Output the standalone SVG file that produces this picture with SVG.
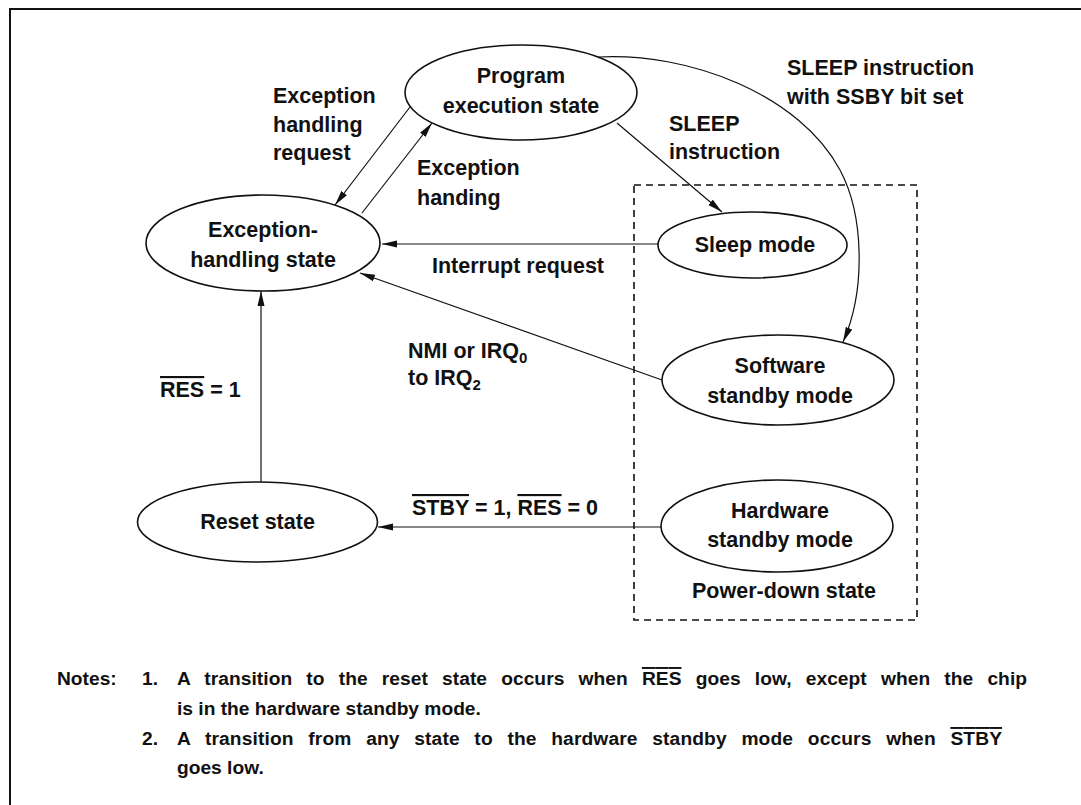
<svg xmlns="http://www.w3.org/2000/svg" width="1081" height="805" viewBox="0 0 1081 805">
<style>
  text { font-family: "Liberation Sans", Arial, sans-serif; font-size: 21.5px; font-weight: bold; fill: #111; }
  .c { text-anchor: middle; }
  .note { font-size: 19.2px; }
  .ov { text-decoration: overline; }
  .node { fill: #fff; stroke: #111; stroke-width: 1.6; }
  .edge { fill: none; stroke: #111; stroke-width: 1.2; }
  .frame { fill: none; stroke: #111; stroke-width: 2; }
  .dash { fill: none; stroke: #111; stroke-width: 1.6; stroke-dasharray: 7 5; }
</style>
<defs>
  <marker id="arr" markerUnits="userSpaceOnUse" markerWidth="16" markerHeight="10" refX="15" refY="4" orient="auto">
    <path d="M0,0.5 L15,4 L0,7.5 z" fill="#111"/>
  </marker>
</defs>
<rect width="1081" height="805" fill="#fff"/>
<path class="frame" d="M10,805 L10,9 L1081,9"/>

<g id="power-down-box">
  <rect class="dash" x="634" y="185" width="283" height="435"/>
  <text x="692" y="598">Power-down state</text>
</g>

<g id="connectors">
  <line class="edge" x1="410" y1="107" x2="335" y2="205" marker-end="url(#arr)"/>
  <line class="edge" x1="362" y1="213" x2="432" y2="123" marker-end="url(#arr)"/>
  <line class="edge" x1="617" y1="123" x2="722" y2="212" marker-end="url(#arr)"/>
  <line class="edge" x1="658" y1="244" x2="382" y2="244" marker-end="url(#arr)"/>
  <line class="edge" x1="662" y1="380" x2="360" y2="273" marker-end="url(#arr)"/>
  <line class="edge" x1="261" y1="482" x2="261" y2="291" marker-end="url(#arr)"/>
  <line class="edge" x1="661" y1="527" x2="378" y2="527" marker-end="url(#arr)"/>
  <path class="edge" d="M598,57 C690,52 800,95 840,170 C864,215 866,290 843,342" marker-end="url(#arr)"/>
  <text x="273" y="103">Exception</text>
  <text x="273" y="132">handling</text>
  <text x="273" y="160">request</text>
  <text x="417" y="175">Exception</text>
  <text x="417" y="205">handing</text>
  <text x="669" y="131">SLEEP</text>
  <text x="669" y="159">instruction</text>
  <text x="787" y="75">SLEEP instruction</text>
  <text x="787" y="104">with SSBY bit set</text>
  <text x="432" y="273">Interrupt request</text>
  <text x="408" y="358">NMI or IRQ<tspan font-size="15" dy="5">0</tspan></text>
  <text x="408" y="385">to IRQ<tspan font-size="15" dy="5">2</tspan></text>
  <text x="160" y="397"><tspan class="ov">RES</tspan> = 1</text>
  <text x="412" y="515"><tspan class="ov">STBY</tspan> = 1, <tspan class="ov">RES</tspan> = 0</text>
</g>

<g id="program-execution">
  <ellipse class="node" cx="521" cy="92.5" rx="116" ry="47.5"/>
  <text class="c" x="521" y="83">Program</text>
  <text class="c" x="521" y="113">execution state</text>
</g>
<g id="exception-handling">
  <ellipse class="node" cx="263" cy="243" rx="117" ry="48"/>
  <text class="c" x="263" y="237">Exception-</text>
  <text class="c" x="263" y="267">handling state</text>
</g>
<g id="sleep-mode">
  <ellipse class="node" cx="752.5" cy="245" rx="94.5" ry="33"/>
  <text class="c" x="755" y="252">Sleep mode</text>
</g>
<g id="software-standby">
  <ellipse class="node" cx="778" cy="380" rx="116" ry="45"/>
  <text class="c" x="780" y="373">Software</text>
  <text class="c" x="780" y="403">standby mode</text>
</g>
<g id="hardware-standby">
  <ellipse class="node" cx="777" cy="526" rx="116" ry="46"/>
  <text class="c" x="780" y="518">Hardware</text>
  <text class="c" x="780" y="547">standby mode</text>
</g>
<g id="reset-state">
  <ellipse class="node" cx="257.5" cy="522" rx="120" ry="40"/>
  <text class="c" x="257.5" y="529">Reset state</text>
</g>

<g id="notes">
  <text class="note" x="57" y="685">Notes:</text>
  <text class="note" x="142" y="685">1.</text>
  <text class="note" x="177" y="685" style="word-spacing:8.8px" textLength="850" lengthAdjust="spacing">A transition to the reset state occurs when <tspan class="ov">RES</tspan> goes low, except when the chip</text>
  <text class="note" x="177" y="715">is in the hardware standby mode.</text>
  <text class="note" x="142" y="745">2.</text>
  <text class="note" x="177" y="745" style="word-spacing:9.2px" textLength="825" lengthAdjust="spacing">A transition from any state to the hardware standby mode occurs when <tspan class="ov">STBY</tspan></text>
  <text class="note" x="177" y="774">goes low.</text>
</g>
</svg>
